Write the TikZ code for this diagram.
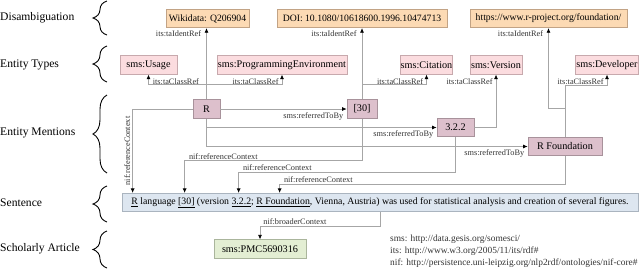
\documentclass[tikz,border=0pt]{standalone}
\usepackage{fontspec}
\setmainfont{Liberation Serif}
\usetikzlibrary{positioning,arrows.meta,calc,decorations.pathreplacing}
\definecolor{ink}{HTML}{333333}
\definecolor{wire}{HTML}{A6A6A6}
\definecolor{idfill}{HTML}{FCDAB4}
\definecolor{idline}{HTML}{C2A385}
\definecolor{typefill}{HTML}{FBDCDF}
\definecolor{typeline}{HTML}{C7A9AD}
\definecolor{mentfill}{HTML}{DDC0CC}
\definecolor{mentline}{HTML}{A8929B}
\definecolor{sentfill}{HTML}{DDE6F0}
\definecolor{sentline}{HTML}{AAB4BF}
\definecolor{artfill}{HTML}{E3EED3}
\definecolor{artline}{HTML}{AAB59C}

\begin{document}
\begin{tikzpicture}[x=1pt,y=-1pt,
  >={Latex[length=4.5pt,width=4pt,black]},
  every node/.style={inner sep=0pt},
  tier/.style={anchor=west,font=\fontsize{11.6}{13}\selectfont},
  tierbrace/.style={decorate,decoration={brace,amplitude=14pt},line width=0.9pt},
  box/.style={draw,line width=0.7pt,minimum height=18.5pt,font=\fontsize{10.2}{12}\selectfont},
  identbox/.style={box,draw=idline,fill=idfill,font=\fontsize{9.7}{12}\selectfont},
  typebox/.style={box,draw=typeline,fill=typefill},
  mentbox/.style={box,draw=mentline,fill=mentfill},
  sentbox/.style={box,draw=sentline,fill=sentfill},
  artbox/.style={box,draw=artline,fill=artfill},
  rel/.style={->,draw=wire,line width=0.7pt},
  lbl/.style={font=\fontsize{8.3}{9}\selectfont,text=ink,inner sep=1pt}
]
\useasboundingbox (0,0) rectangle (640,269);

% tiers on the left
\node[tier] (tdis) at (0,18) {Disambiguation};
\node[tier] (ttyp) at (0,65) {Entity Types};
\node[tier] (tmen) at (0,133) {Entity Mentions};
\node[tier] (tsen) at (0,203) {Sentence};
\node[tier] (tart) at (0,249) {Scholarly Article};
\draw[tierbrace] (107,35) -- (107,1);
\draw[tierbrace] (107,82) -- (107,46);
\draw[tierbrace] (107,173) -- (107,95);
\draw[tierbrace] (107,222) -- (107,186);
\draw[tierbrace] (107,268) -- (107,231);

% disambiguation
\node[identbox,minimum width=83pt] (wiki) at (207.5,18.5) {Wikidata: Q206904};
\node[identbox,minimum width=170pt] (doi) at (362,18.5) {DOI: 10.1080/10618600.1996.10474713};
\node[identbox,minimum width=157pt] (url) at (548.5,18.5) {https://www.r-project.org/foundation/};

% entity types
\node[typebox,minimum width=57pt] (usage) at (148.5,65) {sms:Usage};
\node[typebox,minimum width=130pt] (progenv) at (282,65) {sms:ProgrammingEnvironment};
\node[typebox,minimum width=51pt] (citation) at (426.5,65) {sms:Citation};
\node[typebox,minimum width=52pt] (version) at (496,65) {sms:Version};
\node[typebox,minimum width=63pt] (developer) at (607,65) {sms:Developer};

% mentions
\node[mentbox,minimum width=27pt] (r) at (206.5,109) {R};
\node[mentbox,minimum width=30pt] (cite30) at (362,109) {[30]};
\node[mentbox,minimum width=37pt] (ver322) at (455.5,127.5) {3.2.2};
\node[mentbox,minimum width=74pt] (rfound) at (565,146.5) {R Foundation};

% sentence and article
\node[sentbox,minimum width=516pt,font=\fontsize{9.8}{11}\selectfont] (sent) at (380,202.5)
  {\underline{R} language \underline{[30]} (version \underline{3.2.2}; \underline{R Foundation}, Vienna, Austria) was used for statistical analysis and creation of several figures.};
\node[artbox,minimum width=92pt] (pmc) at (260,249) {sms:PMC5690316};
\node[anchor=north west,align=left,font=\fontsize{9.4}{12}\selectfont,text=ink] (ns) at (390,235)
  {sms: http://data.gesis.org/somesci/\\its: http://www.w3.org/2005/11/its/rdf\#\\nif: http://persistence.uni-leipzig.org/nlp2rdf/ontologies/nif-core\#};

% R
\draw[rel] (r.north) -- (r.north |- wiki.south)
  node[lbl,pos=1,anchor=north east,xshift=-4pt,yshift=-1pt] {its:taIdentRef};
\draw[rel] (r.north) -- ++(0,-15) -| (usage.south)
  node[lbl,pos=1,anchor=north west,xshift=3pt,yshift=-3pt] {its:taClassRef};
\draw[rel] (r.north) -- ++(0,-15) -| (progenv.south)
  node[lbl,pos=1,anchor=north east,xshift=-2pt,yshift=-3pt] {its:taClassRef};
\draw[rel] (r.east) -- (cite30.west)
  node[lbl,pos=1,anchor=north east,xshift=-2pt,yshift=-2pt] {sms:referredToBy};
\draw[rel] (r.south) |- (ver322.west)
  node[lbl,pos=1,anchor=north east,xshift=-2pt,yshift=-2pt] {sms:referredToBy};
\draw[rel] (r.south) |- (rfound.west)
  node[lbl,pos=1,anchor=north east,xshift=-2pt,yshift=-2pt] {sms:referredToBy};
\draw[rel] (r.west) -| node[lbl,pos=0.75,rotate=90,anchor=south,yshift=1pt] {nif:referenceContext}
  ([xshift=11pt]sent.north west);

% [30]
\draw[rel] (cite30.north) -- (cite30.north |- doi.south)
  node[lbl,pos=1,anchor=north east,xshift=-4pt,yshift=-1pt] {its:taIdentRef};
\draw[rel] (cite30.north) -- ++(0,-15) -| (citation.south)
  node[lbl,pos=1,anchor=north east,xshift=-2pt,yshift=-3pt] {its:taClassRef};
\draw[rel] (cite30.south) -- ++(0,42) -| node[lbl,pos=0.5,anchor=south west,xshift=3pt] {nif:referenceContext}
  ([xshift=63pt]sent.north west);

% 3.2.2
\draw[rel] (ver322.east) -| (version.south)
  node[lbl,pos=1,anchor=north east,xshift=-2pt,yshift=-3pt] {its:taClassRef};
\draw[rel] (ver322.south) -- ++(0,35) -| node[lbl,pos=0.5,anchor=south west,xshift=3pt] {nif:referenceContext}
  ([xshift=117pt]sent.north west);

% R Foundation
\draw[rel] (rfound.north) -- ++(0,-29) -| (url.south)
  node[lbl,pos=1,anchor=north east,xshift=-4pt,yshift=-1pt] {its:taIdentRef};
\draw[rel] (rfound.north) -- ++(0,-52) -| (developer.south)
  node[lbl,pos=1,anchor=north east,xshift=-2pt,yshift=-3pt] {its:taClassRef};
\draw[rel] (rfound.south) -- ++(0,28) -| node[lbl,pos=0.5,anchor=south west,xshift=3pt] {nif:referenceContext}
  ([xshift=158pt]sent.north west);

% sentence
\draw[rel] (sent.south) -- ++(0,14) -| node[lbl,pos=0.5,anchor=south west,xshift=2pt] {nif:broaderContext}
  (pmc.north);
\end{tikzpicture}
\end{document}
